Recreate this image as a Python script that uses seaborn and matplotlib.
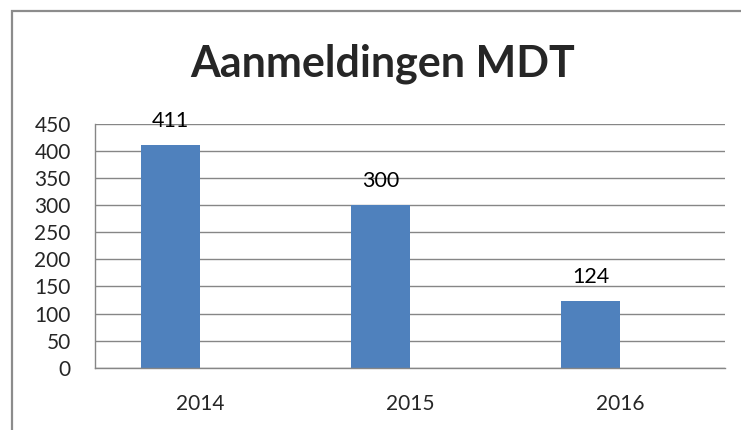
import matplotlib
matplotlib.use("Agg")
import matplotlib.pyplot as plt
import matplotlib.patches as mpatches
import pandas as pd
import seaborn as sns

years = ["2014", "2015", "2016"]
aanmeldingen = [411, 300, 124]
series_order = ["Aanmeldingen", "leeg"]
y_ticks = [0, 50, 100, 150, 200, 250, 300, 350, 400, 450]

sns.set_style("white")
plt.rcParams["font.family"] = ["Lato", "DejaVu Sans"]

df = pd.DataFrame({"jaar": years, "aantal": aanmeldingen, "reeks": "Aanmeldingen"})

fig = plt.figure(figsize=(7.41, 4.30), dpi=100)
ax = fig.add_axes([95 / 741, (430 - 367.7) / 430, 630 / 741, (367.7 - 124) / 430])

# tweede (lege) reeks zorgt dat de balk links van het midden staat, zoals in Excel
sns.barplot(data=df, x="jaar", y="aantal", hue="reeks", hue_order=series_order,
            order=years, palette=["#4F81BD", "#C0504D"], width=0.56, dodge=True,
            saturation=1, linewidth=0, legend=False, ax=ax)

for c in ax.containers:
    ax.bar_label(c, fmt="%d", padding=10, fontsize=15.5, color="#000000")

grey = "#868686"
ax.set_ylim(0, 450)
ax.set_xlim(-0.5, 2.5)
ax.set_yticks(y_ticks)
ax.set_yticklabels([str(v) for v in y_ticks], fontsize=15)
ax.set_xticks(range(len(years)))
ax.set_xticklabels(years, fontsize=15)
ax.set_xticks([-0.5, 0.5, 1.5, 2.5], minor=True)
ax.tick_params(axis="x", which="major", length=0, pad=19)
ax.tick_params(axis="x", which="minor", length=7, width=1, color=grey, direction="out")
ax.tick_params(axis="y", length=6.5, width=1, color=grey, direction="out", pad=11)
ax.yaxis.grid(True, color=grey, linewidth=1)
ax.set_axisbelow(True)
for side in ["top", "right"]:
    ax.spines[side].set_visible(False)
for side in ["left", "bottom"]:
    ax.spines[side].set_color(grey)
    ax.spines[side].set_linewidth(1)
ax.set_xlabel("")
ax.set_ylabel("")

fig.text(383 / 741, 1 - 64 / 430, "Aanmeldingen MDT", ha="center", va="center",
         fontsize=31, fontweight="bold")

# kader van het grafiekgebied
fig.patches.append(mpatches.Rectangle((11.5 / 741, -0.1), 1.2, 1 - 11.5 / 430 + 0.1,
                                      transform=fig.transFigure, fill=False,
                                      edgecolor="#8C8C8C", linewidth=1.6))

fig.savefig("out.png", dpi=100)
